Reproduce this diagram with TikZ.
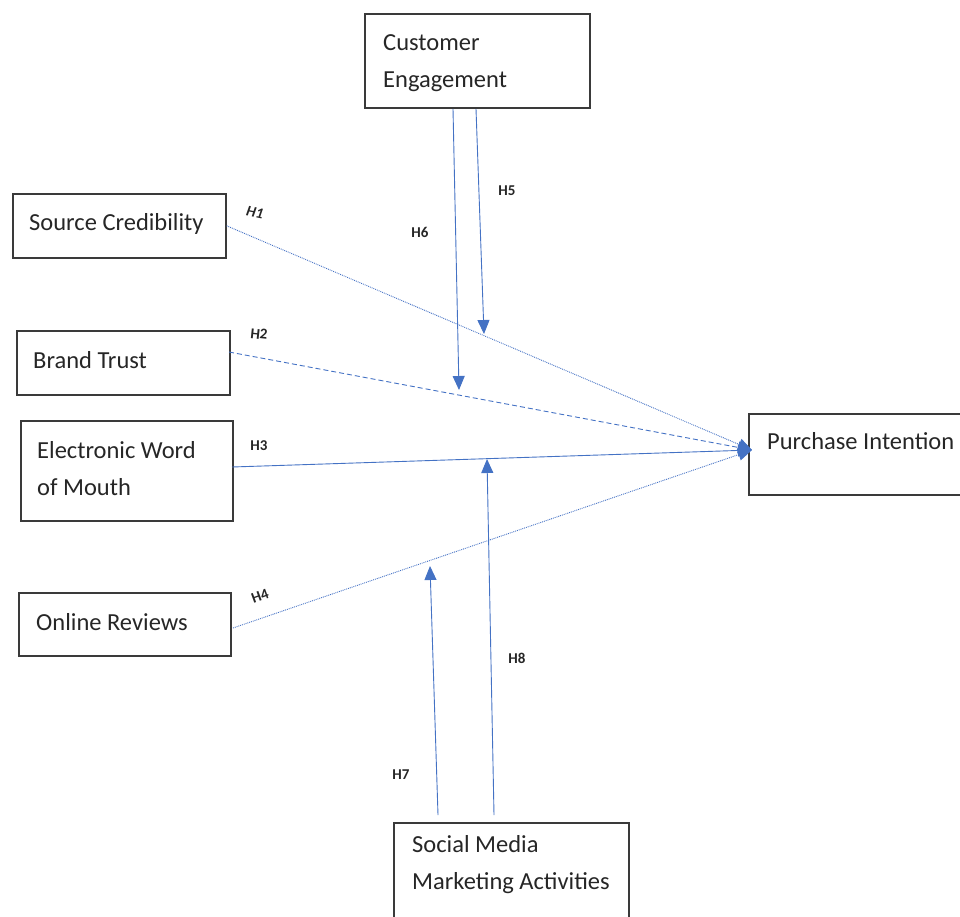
\documentclass[tikz,border=0pt]{standalone}
\usepackage{fontspec}
\setmainfont{Carlito}
\usetikzlibrary{arrows.meta,calc}
\definecolor{lnblue}{HTML}{4472C4}
\definecolor{boxgray}{HTML}{3A3A3A}
\begin{document}
\begin{tikzpicture}[x=1pt,y=-1pt,
  box/.style={draw=boxgray,line width=1.6pt,rectangle,inner sep=0pt,anchor=north west},
  txt/.style={inner sep=0pt,anchor=base west,align=left,font=\fontsize{24.5}{37}\selectfont,text=black!85},
  hlab/.style={inner sep=0pt,font=\fontsize{15}{17}\selectfont\bfseries,text=black!85},
  conn/.style={draw=lnblue,line width=0.9pt},
  tip/.style={-{Triangle[length=14pt,width=12pt]}}
]
\useasboundingbox (0,0) rectangle (960,916);
\clip (0,0) rectangle (960,916);
% boxes
\node[box,minimum width=225pt,minimum height=94pt] (ce) at (364,13) {};
\node[box,minimum width=213pt,minimum height=64pt] (sc) at (12,193) {};
\node[box,minimum width=213pt,minimum height=64pt] (bt) at (16,330) {};
\node[box,minimum width=212pt,minimum height=100pt] (ew) at (20,420) {};
\node[box,minimum width=212pt,minimum height=63pt] (or) at (18,592) {};
\node[box,minimum width=240pt,minimum height=81pt] (pi) at (748,413) {};
\node[box,minimum width=235pt,minimum height=120pt] (sm) at (393,822) {};
% texts (base anchor = baseline of last line)
\node[txt] (ce-t) at (383,87) {Customer\\Engagement};
\node[txt] (sc-t) at (29,230) {Source Credibility};
\node[txt] (bt-t) at (33,368) {Brand Trust};
\node[txt] (ew-t) at (37,495) {Electronic Word\\of Mouth};
\node[txt] (or-t) at (36,630) {Online Reviews};
\node[txt] (pi-t) at (767,449) {Purchase Intention};
\node[txt] (sm-t) at (412,889) {Social Media\\Marketing Activities};
% connector ends
\coordinate (pin) at (752,450);
\coordinate (s2) at (229,352);
\coordinate (s3) at (232,467);
\coordinate (s4) at (233,628);
\coordinate (t6) at (459,390);
\coordinate (t5) at (484,334);
\coordinate (t7) at (430,566);
\coordinate (t8) at (487,459);
\coordinate (b6) at (453,109);
\coordinate (b5) at (476,109);
\coordinate (b7) at (438,815);
\coordinate (b8) at (494,815);
% connectors to Purchase Intention
\draw[conn,densely dotted,tip] (sc.east) -- (pin);
\draw[conn,dash pattern=on 5pt off 3pt,tip] (s2) -- (pin);
\draw[conn,tip] (s3) -- (pin);
\draw[conn,densely dotted,tip] (s4) -- (pin);
% moderators
\draw[conn,tip] (b6) -- (t6);
\draw[conn,tip] (b5) -- (t5);
\draw[conn,tip] (b7) -- (t7);
\draw[conn,tip] (b8) -- (t8);
% labels
\node[hlab,rotate=-12,font=\fontsize{15}{17}\selectfont\bfseries\itshape] (h1) at (255,213) {H1};
\node[hlab,rotate=-6] (h2) at (259,334) {H2};
\node[hlab] (h3) at (259,446) {H3};
\node[hlab,rotate=20] (h4) at (260,596) {H4};
\node[hlab] (h5) at (507,191) {H5};
\node[hlab] (h6) at (420,232) {H6};
\node[hlab] (h7) at (401,775) {H7};
\node[hlab] (h8) at (517,658) {H8};
\end{tikzpicture}
\end{document}
